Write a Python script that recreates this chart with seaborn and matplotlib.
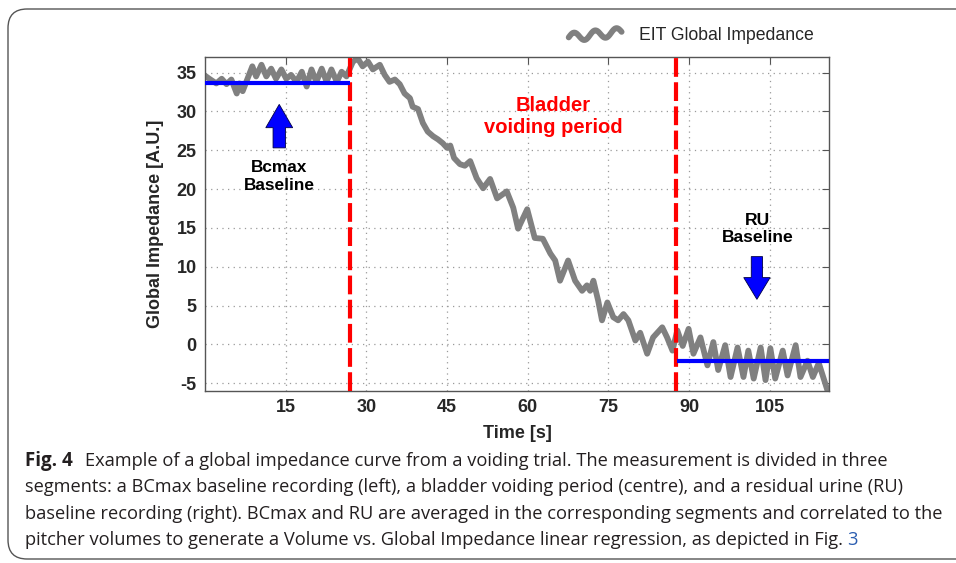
import matplotlib
matplotlib.use("Agg")
import matplotlib.pyplot as plt
import seaborn as sns
import pandas as pd
import numpy as np
from matplotlib.patches import FancyArrow, FancyBboxPatch
from matplotlib.legend_handler import HandlerLine2D
from matplotlib.lines import Line2D

# ---------------- data ----------------
time_s = [0.0, 0.8, 2.1, 3.1, 4.0, 4.9, 5.9, 6.4, 7.0, 7.9, 8.8, 9.5, 10.5, 11.4, 12.3,
          13.2, 14.2, 15.1, 16.0, 17.0, 18.0, 18.9, 19.8, 20.7, 21.7, 22.6, 23.5, 24.5,
          25.4, 26.3,
          27.5, 28.4, 29.3, 30.3, 31.2, 32.5, 33.4, 34.3, 35.3, 36.2, 37.1, 38.1, 38.6,
          39.6, 40.5, 41.4, 42.4, 43.3, 44.2, 45.0, 45.6, 46.3, 47.4, 48.3, 49.3, 50.5,
          51.7, 53.0, 54.3, 56.1, 57.3, 58.2, 59.9, 61.3, 62.8, 64.2, 65.1, 66.0, 67.5,
          68.8, 70.1, 71.0, 71.6, 72.2, 73.1, 73.8, 74.8, 75.9, 76.8, 77.8, 78.7, 80.0,
          80.9, 82.2, 83.3, 85.0, 85.9, 86.9, 87.8,
          88.8, 89.9, 90.8, 92.1, 93.4, 94.5, 95.4, 96.7, 97.7, 99.0, 100.1, 101.0,
          102.0, 103.3, 104.2, 105.1, 106.0, 107.4, 108.3, 109.8, 110.7, 112.0, 113.0,
          114.1, 115.7]
impedance = [34.6, 34.2, 33.6, 34.2, 33.5, 34.1, 32.3, 33.6, 32.6, 34.2, 35.8, 34.5, 36.0,
             34.5, 35.5, 34.2, 35.4, 34.2, 34.7, 33.8, 35.1, 33.2, 35.4, 33.8, 35.5, 33.8,
             35.4, 33.8, 35.1, 34.5,
             36.4, 36.8, 35.8, 36.4, 35.4, 36.0, 34.7, 33.8, 34.1, 33.5, 32.3, 31.7, 30.6,
             30.3, 28.5, 27.4, 26.8, 26.4, 25.9, 25.3, 25.6, 24.0, 23.2, 23.0, 23.6, 21.4,
             20.1, 21.3, 18.8, 19.7, 17.6, 14.9, 17.4, 13.7, 13.6, 11.7, 10.8, 8.2, 10.8,
             8.2, 6.9, 7.6, 6.9, 8.2, 5.6, 3.1, 5.4, 3.5, 3.1, 3.9, 3.1, 0.5,
             1.5, -1.2, 0.9, 2.2, 0.9, -0.8, 1.8,
             -0.2, 2.0, -1.2, 0.9, -2.7, 0.3, -3.3, -0.1, -4.2, -0.4, -4.2, -0.8,
             -4.4, -0.4, -4.6, -0.5, -4.4, -0.8, -4.0, -0.1, -4.2, -2.1, -4.2,
             -2.4, -5.9]

segment_bounds = [26.9, 87.5]          # red dashed separators
bcmax_baseline = 33.6                  # mean of first segment
ru_baseline = -2.2                     # mean of last segment
x_ticks = [15, 30, 45, 60, 75, 90, 105]
y_ticks = [-5, 0, 5, 10, 15, 20, 25, 30, 35]

caption_lines = [
    "Example of a global impedance curve from a voiding trial. The measurement is divided in three",
    "segments: a BCmax baseline recording (left), a bladder voiding period (centre), and a residual urine (RU)",
    "baseline recording (right). BCmax and RU are averaged in the corresponding segments and correlated to the",
    "pitcher volumes to generate a Volume vs. Global Impedance linear regression, as depicted in Fig.",
]

df = pd.DataFrame({"Time [s]": time_s, "Global Impedance [A.U.]": impedance})

# ---------------- style ----------------
sns.set_theme(style="white")
plt.rcParams["font.family"] = ["Liberation Sans", "DejaVu Sans"]
plt.rcParams["axes.unicode_minus"] = False

W, H = 956, 563
fig = plt.figure(figsize=(W / 100, H / 100), dpi=100)
ax = fig.add_axes([205 / W, 1 - 391 / H, (829 - 205) / W, (391 - 57) / H])

sns.lineplot(data=df, x="Time [s]", y="Global Impedance [A.U.]", ax=ax,
             color="#808080", linewidth=4.2, sort=False, estimator=None,
             label="EIT Global Impedance", legend=False)

ax.set_xlim(0, 116)
ax.set_ylim(-6, 37)
ax.set_xticks(x_ticks)
ax.set_yticks(y_ticks)
ax.grid(True, linestyle=(0, (1, 3.5)), color="#9a9a9a", linewidth=0.9)
for s in ax.spines.values():
    s.set_color("#555555")
    s.set_linewidth(1.0)
ax.tick_params(direction="in", length=5, width=0.8, color="#555555",
               top=True, right=True, labelsize=13, pad=6)
for lab in ax.get_xticklabels() + ax.get_yticklabels():
    lab.set_fontweight("bold")
ax.set_xlabel("Time [s]", fontsize=13, fontweight="bold", labelpad=6)
ax.set_ylabel("Global Impedance [A.U.]", fontsize=13, fontweight="bold", labelpad=9)

# separators and baselines
for b in segment_bounds:
    ax.axvline(b, color="#ff0000", linewidth=3.0, dashes=(4.5, 1.3), zorder=4)
ax.hlines(bcmax_baseline, 0, segment_bounds[0], color="#0000ff", linewidth=3.0, zorder=5)
ax.hlines(ru_baseline, segment_bounds[1] + 0.3, 116, color="#0000ff", linewidth=3.0, zorder=5)

# arrows
ax.add_patch(FancyArrow(13.8, 25.3, 0, 5.6, width=2.3, head_width=5.0, head_length=3.0,
                        length_includes_head=True, facecolor="#0000ff",
                        edgecolor="#000044", linewidth=0.6, zorder=6))
ax.add_patch(FancyArrow(102.6, 11.3, 0, -5.5, width=2.1, head_width=4.9, head_length=2.8,
                        length_includes_head=True, facecolor="#0000ff",
                        edgecolor="#000044", linewidth=0.6, zorder=6))

# annotations
ax.text(13.8, 21.6, "Bcmax\nBaseline", ha="center", va="center", fontsize=12.4,
        fontweight="bold", color="black", linespacing=1.2)
ax.text(64.7, 29.3, "Bladder\nvoiding period", ha="center", va="center", fontsize=14.5,
        fontweight="bold", color="#ff0000", linespacing=1.2)
ax.text(102.8, 14.9, "RU\nBaseline", ha="center", va="center", fontsize=12.6,
        fontweight="bold", color="black", linespacing=1.15)


# legend with wavy handle
class WavyHandler(HandlerLine2D):
    def create_artists(self, legend, orig_handle, xdescent, ydescent, width, height,
                       fontsize, trans):
        xs = np.linspace(-xdescent, width - xdescent, 40)
        base = height / 2 - ydescent
        ys = base + 0.35 * height * np.sin(np.linspace(0, 5 * np.pi, 40)) \
            + np.linspace(-0.25 * height, 0.2 * height, 40)
        ln = Line2D(xs, ys, color="#808080", linewidth=4.2, solid_capstyle="round")
        ln.set_transform(trans)
        return [ln]


handle = Line2D([0], [0], color="#808080", linewidth=4.2)
fig.legend([handle], ["EIT Global Impedance"], loc="center right",
           bbox_to_anchor=(814 / W, 1 - 36 / H), frameon=False, fontsize=12.7,
           handlelength=3.0, handletextpad=1.0, borderpad=0, borderaxespad=0,
           handler_map={Line2D: WavyHandler()})

# frame around the figure
frame = FancyBboxPatch((8 / W, 4 / H), 1.2, (563 - 13) / H,
                       boxstyle="round,pad=0,rounding_size=0.02",
                       transform=fig.transFigure, facecolor="none",
                       edgecolor="#555555", linewidth=1.0, clip_on=False,
                       mutation_aspect=W / H)
fig.patches.append(frame)

# caption
cap_font = ["Liberation Sans Narrow", "Open Sans", "DejaVu Sans"]
fig.canvas.draw()
renderer = fig.canvas.get_renderer()
ys_cap = [461, 487, 514, 540]
x0 = 25
fig_lbl = fig.text(x0 / W, 1 - ys_cap[0] / H, "Fig. 4", fontsize=13.5, fontweight="bold",
                   va="center", ha="left", color="#231f20", family=cap_font)
# scale caption font so line widths match the reference
probe = fig.text(0, 0, caption_lines[2], fontsize=13.5, family=cap_font)
wpx = probe.get_window_extent(renderer).width
probe.remove()
cap_size = 13.5 * (942 - x0) / wpx
lbl_w = fig_lbl.get_window_extent(renderer).width
for i, line in enumerate(caption_lines):
    xs = (x0 + lbl_w + 12) if i == 0 else x0
    t = fig.text(xs / W, 1 - ys_cap[i] / H, line, fontsize=cap_size, va="center",
                 ha="left", color="#231f20", family=cap_font)
    if i == 3:
        ext = t.get_window_extent(renderer)
        fig.text((ext.x1 + 4) / W, 1 - ys_cap[i] / H, "3", fontsize=cap_size,
                 va="center", ha="left", color="#2a5db0", family=cap_font)

fig.savefig("out.png", dpi=100)
